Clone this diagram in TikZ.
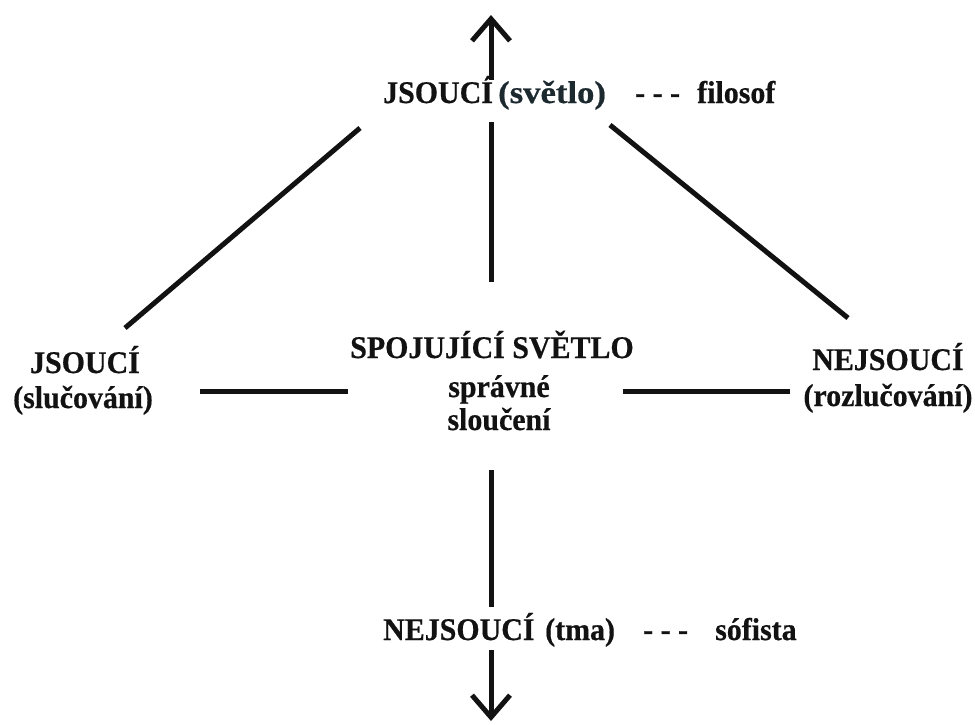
\documentclass[tikz,border=0pt]{standalone}
\usepackage{fontspec}
\usepackage{graphicx}
\setmainfont{Liberation Serif}[BoldFeatures={FakeBold=0.6}]
\usetikzlibrary{arrows.meta}
\definecolor{ink}{HTML}{121212}
\definecolor{inkb}{HTML}{1C2A30}
\newcommand{\T}[2][0.95]{\scalebox{#1}[1]{#2}}
\begin{document}
\begin{tikzpicture}[x=1pt,y=-1pt,
  txt/.style={inner sep=0pt,text=ink,font=\bfseries\fontsize{31.5}{36}\selectfont},
  wl/.style={txt,anchor=base west},
  cl/.style={txt,anchor=base},
  bar/.style={line width=5pt,draw=ink},
  arr/.style={bar,-{Straight Barb[length=22pt,width=38pt]}}]
\useasboundingbox (0,0) rectangle (975,724);
% top label
\node[wl] (jt) at (383,103) {\T{JSOUCÍ}};
\node[wl,text=inkb] (svt) at (498,103) {\T[1.1]{(světlo)}};
\node[wl] (dt) at (635,103) {\T{- - -}};
\node[wl] (fil) at (697,103) {\T{filosof}};
% left
\node[cl] (jl) at (85,373) {\T{JSOUCÍ}};
\node[cl] (sl) at (83,408) {\T{(slučování)}};
% centre
\node[cl] (sp) at (492,358) {\T{SPOJUJÍCÍ SVĚTLO}};
\node[cl] (spr) at (499,397) {\T{správné}};
\node[cl] (slo) at (499,430) {\T{sloučení}};
% right
\node[cl] (nr) at (888,370) {\T{NEJSOUCÍ}};
\node[cl] (rr) at (888,406) {\T{(rozlučování)}};
% bottom label
\node[wl] (nb) at (383,640) {\T{NEJSOUCÍ}};
\node[wl] (tma) at (545,640) {\T{(tma)}};
\node[wl] (db) at (643,640) {\T{- - -}};
\node[wl] (sof) at (715,640) {\T{sófista}};
% connector end points
\coordinate (ua) at (491,282);
\coordinate (ub) at (491,122);
\coordinate (uc) at (491,80);
\coordinate (utip) at (491,15);
\coordinate (da) at (491,470);
\coordinate (db1) at (491,607);
\coordinate (dc) at (491,650);
\coordinate (dtip) at (491,721);
\coordinate (l1) at (125,328);
\coordinate (l2) at (360,128);
\coordinate (r1) at (610,125);
\coordinate (r2) at (848,318);
\coordinate (h1) at (200,391);
\coordinate (h2) at (348,391);
\coordinate (h3) at (623,391);
\coordinate (h4) at (790,391);
% connectors
\draw[bar] (ua) -- (ub);
\draw[arr] (uc) -- (utip);
\draw[bar] (da) -- (db1);
\draw[arr] (dc) -- (dtip);
\draw[bar] (l1) -- (l2);
\draw[bar] (r1) -- (r2);
\draw[bar] (h1) -- (h2);
\draw[bar] (h3) -- (h4);
\end{tikzpicture}
\end{document}
